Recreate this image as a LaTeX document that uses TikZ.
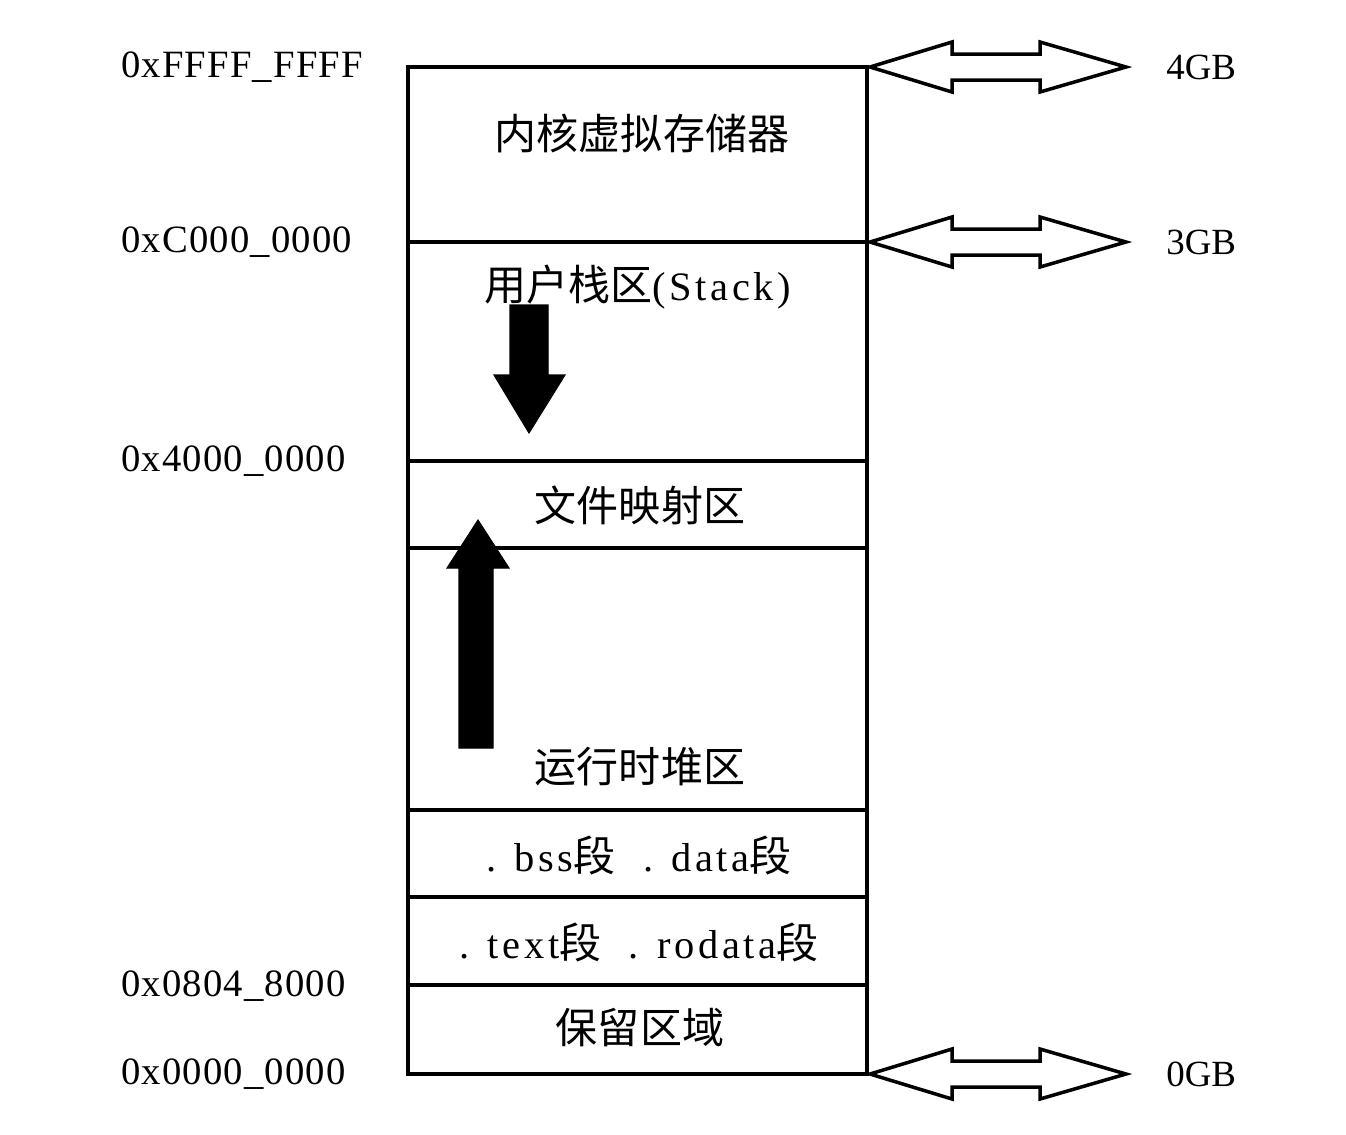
\documentclass[tikz,border=0pt]{standalone}
\usepackage{fontspec}
\setmainfont{Liberation Serif}
\newfontfamily\cjk{Noto Sans CJK SC}[Scale=1.04]
\newfontfamily\addrfont{Liberation Serif}[LetterSpace=3]
\newfontfamily\wide{Liberation Serif}[LetterSpace=9]
\begin{document}
\begin{tikzpicture}[x=0.02cm,y=-0.02cm,
  seg/.style={draw=black,line width=2pt},
  addr/.style={anchor=west,font=\fontsize{22}{26}\addrfont,inner sep=0pt},
  gb/.style={anchor=west,font=\fontsize{21}{26}\selectfont,inner sep=0pt},
  lbl/.style={font=\fontsize{23}{26}\wide,inner sep=0pt},
  dblarrow/.style={draw=black,line width=2pt,fill=white,line join=miter},
  blockarrow/.style={fill=black,draw=black,line width=0.6pt}]
\useasboundingbox (0,0) rectangle (1346,1134);
\fill[white] (0,0) rectangle (1346,1134);

% memory segments, top to bottom
\coordinate (L0) at (408,67);   \coordinate (R0) at (867,67);
\coordinate (L1) at (408,242);  \coordinate (R1) at (867,242);
\coordinate (L2) at (408,461);  \coordinate (R2) at (867,461);
\coordinate (L3) at (408,548);  \coordinate (R3) at (867,548);
\coordinate (L4) at (408,810);  \coordinate (R4) at (867,810);
\coordinate (L5) at (408,897);  \coordinate (R5) at (867,897);
\coordinate (L6) at (408,985);  \coordinate (R6) at (867,985);
\coordinate (L7) at (408,1074); \coordinate (R7) at (867,1074);
\draw[seg] (L0) rectangle (R7);
\foreach \i in {1,...,6} \draw[seg] (L\i) -- (R\i);

% segment labels
\node[lbl] (kernel) at (642,133) {\cjk 内核虚拟存储器};
\node[lbl] (stack)  at (638,287) {{\cjk 用户栈区}(Stack)};
\node[lbl] (mmap)   at (640,505) {\cjk 文件映射区};
\node[lbl] (heap)   at (640,767) {\cjk 运行时堆区};
\node[lbl] (bss)    at (639,855) {. bss{\cjk 段}\ \ . data{\cjk 段}};
\node[lbl] (text)   at (639,942) {. text{\cjk 段}\ \ . rodata{\cjk 段}};
\node[lbl] (resv)   at (640,1028) {\cjk 保留区域};

% addresses
\node[addr] (a0) at (121,67)   {0xFFFF\_FFFF};
\node[addr] (a1) at (121,242)  {0xC000\_0000};
\node[addr] (a2) at (121,461)  {0x4000\_0000};
\node[addr] (a3) at (121,986)  {0x0804\_8000};
\node[addr] (a4) at (121,1074) {0x0000\_0000};

% growth directions: stack grows down, heap grows up
\draw[blockarrow] (510,305) -- (548,305) -- (548,375) -- (565,375) -- (529,433)
  -- (494,375) -- (510,375) -- cycle;
\draw[blockarrow] (459,748) -- (493,748) -- (493,568) -- (509,568) -- (478,520)
  -- (447,568) -- (459,568) -- cycle;

% size markers
\foreach \c/\t/\n in {67/4GB/g4, 242/3GB/g3, 1074/0GB/g0}{
  \draw[dblarrow] (870,\c) -- (952,\c-25) -- (952,\c-13) -- (1040,\c-13)
    -- (1040,\c-25) -- (1126,\c) -- (1040,\c+25) -- (1040,\c+13)
    -- (952,\c+13) -- (952,\c+25) -- cycle;
  \node[gb] (\n) at (1166,\c) {\t};
}
\end{tikzpicture}
\end{document}
